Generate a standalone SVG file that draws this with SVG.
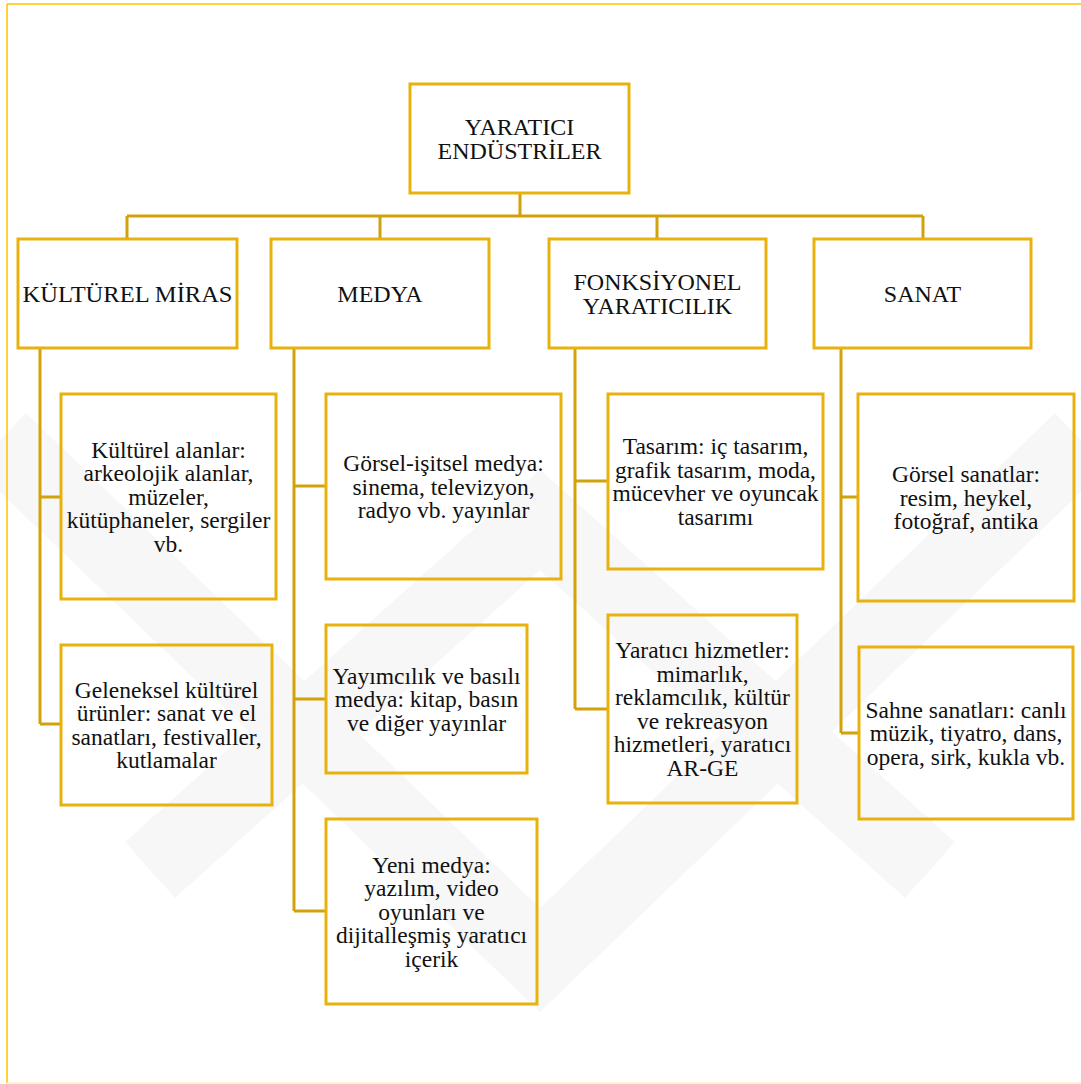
<svg xmlns="http://www.w3.org/2000/svg" width="1081" height="1084" viewBox="0 0 1081 1084">
  <style>
    .box { fill: none; stroke: #E8B10C; stroke-width: 3; }
    .con { fill: none; stroke: #D2A20C; stroke-width: 3; }
    .h { font-size: 24px; }
    .c { font-size: 23.5px; }
    .wm { fill: none; stroke: #F7F7F7; stroke-width: 75; stroke-linejoin: miter; }
    text { font-family: "Liberation Serif", "DejaVu Serif", serif; fill: #111111; text-anchor: middle; }
  </style>
  <rect width="1081" height="1084" fill="#ffffff"/>
  <g id="watermark">
    <polyline class="wm" points="0,440 540,960 1081,440"/>
    <polyline class="wm" points="150,870 540,520 930,870"/>
  </g>
  <g id="frame">
    <line x1="7" y1="4" x2="1081" y2="4" stroke="#FFC000" stroke-width="1.5"/>
    <line x1="7" y1="4" x2="7" y2="1083" stroke="#FFC000" stroke-width="1.5"/>
    <line x1="7" y1="1083" x2="1081" y2="1083" stroke="#FBEFC8" stroke-width="1.5"/>
  </g>
  <g id="connectors">
    <path class="con" d="M520,193 V216 M127,216 H923 M127,216 V239 M380,216 V239 M657,216 V239 M923,216 V239"/>
    <path class="con" d="M40,348 V724 M40,497 H61 M40,724 H61"/>
    <path class="con" d="M294,348 V911 M294,486 H326 M294,699 H326 M294,911 H326"/>
    <path class="con" d="M575,348 V709 M575,481 H608 M575,709 H608"/>
    <path class="con" d="M841,348 V733 M841,497 H858 M841,733 H859"/>
  </g>
  <g id="n-root">
    <rect class="box" x="410" y="84" width="219" height="109"/>
    <text class="h" x="519.5" y="134.7">YARATICI</text>
    <text class="h" x="519.5" y="158.7">ENDÜSTRİLER</text>
  </g>
  <g id="n-kultur">
    <rect class="box" x="18" y="239" width="219" height="109"/>
    <text class="h" x="127.5" y="302" textLength="210" lengthAdjust="spacingAndGlyphs">KÜLTÜREL MİRAS</text>
  </g>
  <g id="n-medya">
    <rect class="box" x="271" y="239" width="218" height="109"/>
    <text class="h" x="380" y="302">MEDYA</text>
  </g>
  <g id="n-fonk">
    <rect class="box" x="549" y="239" width="217" height="109"/>
    <text class="h" x="657.5" y="289.5">FONKSİYONEL</text>
    <text class="h" x="657.5" y="313.5">YARATICILIK</text>
  </g>
  <g id="n-sanat">
    <rect class="box" x="814" y="239" width="217" height="109"/>
    <text class="h" x="922.5" y="302">SANAT</text>
  </g>
  <g id="n-kultur-alan">
    <rect class="box" x="61" y="394" width="215" height="205"/>
    <text class="c" x="168.5" y="457.5">Kültürel alanlar:</text>
    <text class="c" x="168.5" y="481">arkeolojik alanlar,</text>
    <text class="c" x="168.5" y="504.5">müzeler,</text>
    <text class="c" x="168.5" y="528">kütüphaneler, sergiler</text>
    <text class="c" x="168.5" y="551.5">vb.</text>
  </g>
  <g id="n-geleneksel">
    <rect class="box" x="61" y="645" width="211" height="160"/>
    <text class="c" x="166.5" y="697.75">Geleneksel kültürel</text>
    <text class="c" x="166.5" y="721.25">ürünler: sanat ve el</text>
    <text class="c" x="166.5" y="744.75">sanatları, festivaller,</text>
    <text class="c" x="166.5" y="768.25">kutlamalar</text>
  </g>
  <g id="n-gorsel-isitsel">
    <rect class="box" x="326" y="394" width="235" height="185"/>
    <text class="c" x="443.5" y="471">Görsel-işitsel medya:</text>
    <text class="c" x="443.5" y="494.5">sinema, televizyon,</text>
    <text class="c" x="443.5" y="518">radyo vb. yayınlar</text>
  </g>
  <g id="n-yayimcilik">
    <rect class="box" x="326" y="625" width="201" height="148"/>
    <text class="c" x="426.5" y="683.5">Yayımcılık ve basılı</text>
    <text class="c" x="426.5" y="707">medya: kitap, basın</text>
    <text class="c" x="426.5" y="730.5">ve diğer yayınlar</text>
  </g>
  <g id="n-yeni-medya">
    <rect class="box" x="326" y="819" width="211" height="185"/>
    <text class="c" x="431.5" y="872.5">Yeni medya:</text>
    <text class="c" x="431.5" y="896">yazılım, video</text>
    <text class="c" x="431.5" y="919.5">oyunları ve</text>
    <text class="c" x="431.5" y="943">dijitalleşmiş yaratıcı</text>
    <text class="c" x="431.5" y="966.5">içerik</text>
  </g>
  <g id="n-tasarim">
    <rect class="box" x="608" y="394" width="215" height="175"/>
    <text class="c" x="715.5" y="454.25">Tasarım: iç tasarım,</text>
    <text class="c" x="715.5" y="477.75">grafik tasarım, moda,</text>
    <text class="c" x="715.5" y="501.25">mücevher ve oyuncak</text>
    <text class="c" x="715.5" y="524.75">tasarımı</text>
  </g>
  <g id="n-yaratici-hizmet">
    <rect class="box" x="608" y="615" width="189" height="188"/>
    <text class="c" x="702.5" y="658.25">Yaratıcı hizmetler:</text>
    <text class="c" x="702.5" y="681.75">mimarlık,</text>
    <text class="c" x="702.5" y="705.25">reklamcılık, kültür</text>
    <text class="c" x="702.5" y="728.75">ve rekreasyon</text>
    <text class="c" x="702.5" y="752.25">hizmetleri, yaratıcı</text>
    <text class="c" x="702.5" y="775.75">AR-GE</text>
  </g>
  <g id="n-gorsel-sanat">
    <rect class="box" x="858" y="394" width="216" height="207"/>
    <text class="c" x="966" y="482">Görsel sanatlar:</text>
    <text class="c" x="966" y="505.5">resim, heykel,</text>
    <text class="c" x="966" y="529">fotoğraf, antika</text>
  </g>
  <g id="n-sahne">
    <rect class="box" x="859" y="647" width="214" height="172"/>
    <text class="c" x="966" y="717.5">Sahne sanatları: canlı</text>
    <text class="c" x="966" y="741">müzik, tiyatro, dans,</text>
    <text class="c" x="966" y="764.5">opera, sirk, kukla vb.</text>
  </g>
</svg>
